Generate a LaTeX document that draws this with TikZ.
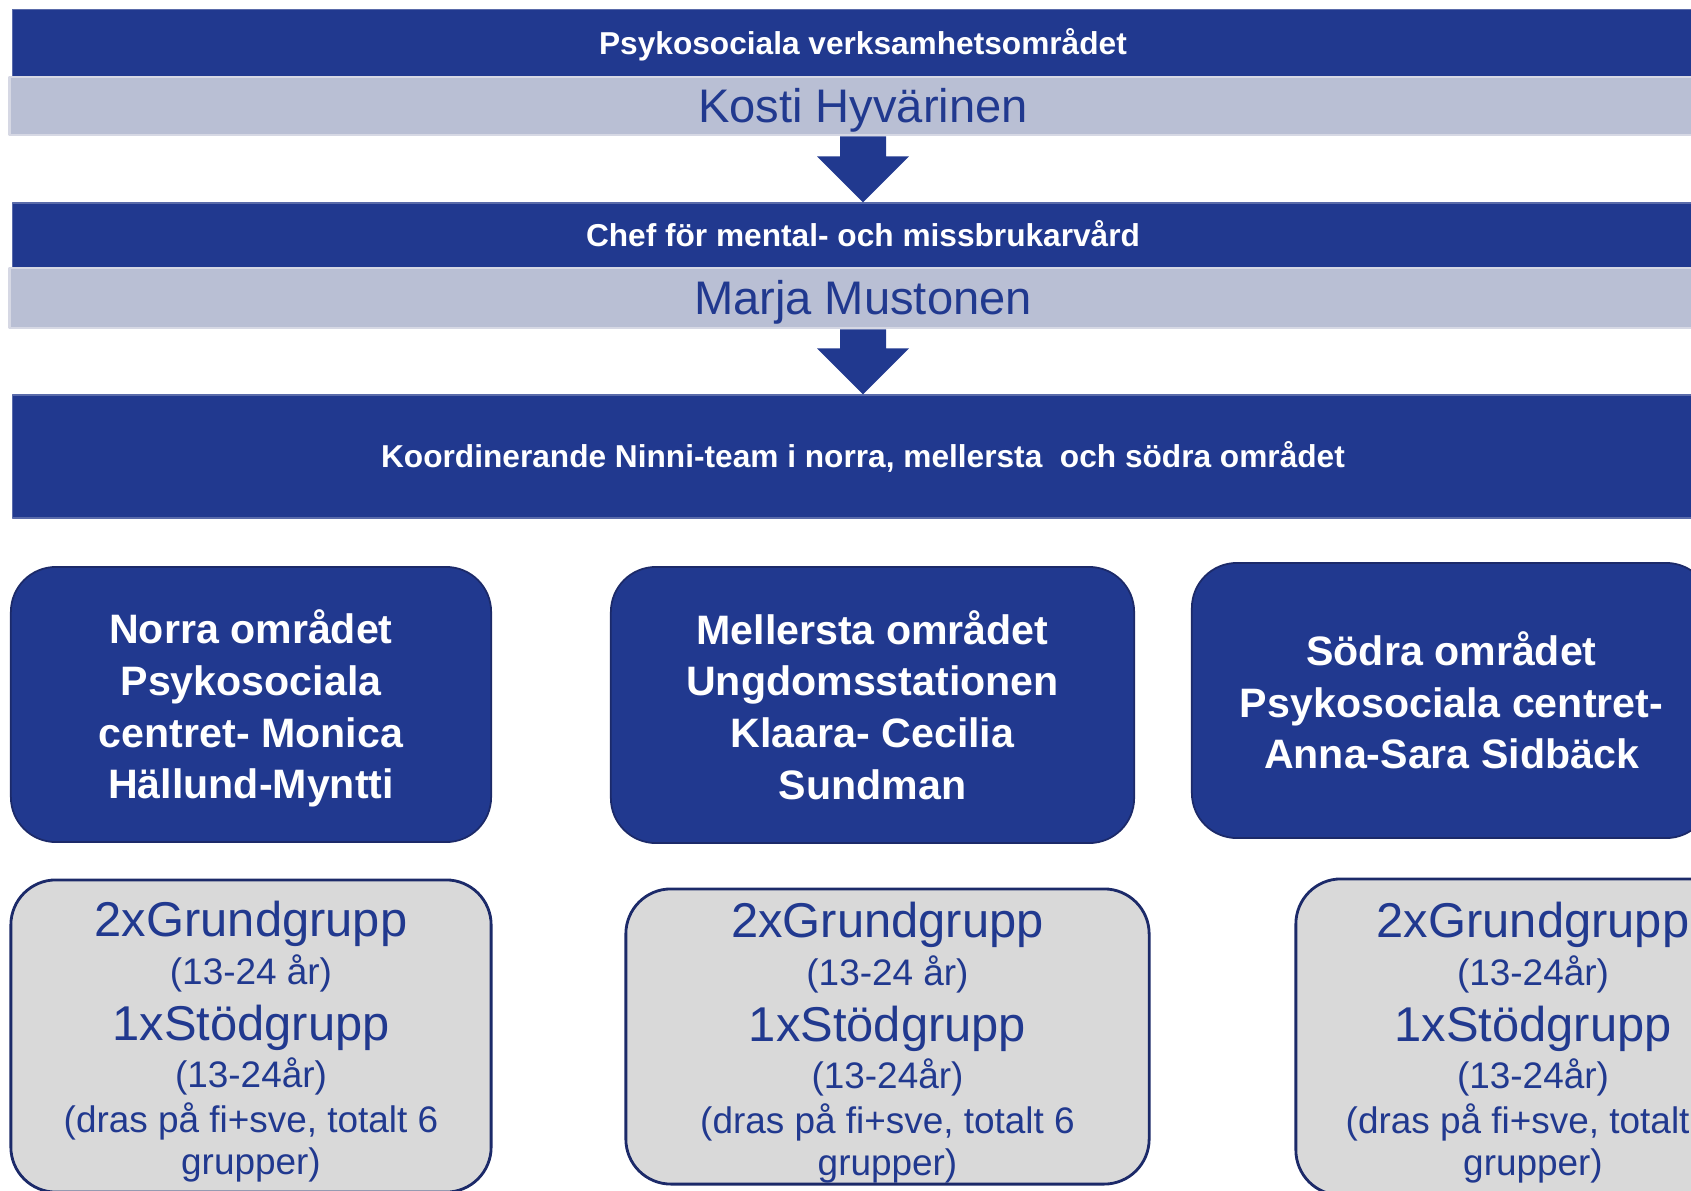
\documentclass[tikz,border=0pt]{standalone}
\usepackage{fontspec}
\setmainfont{Liberation Sans}
\usepackage{tikz}
\usetikzlibrary{calc}
\definecolor{dkblue}{rgb}{0.129,0.224,0.561}
\definecolor{bandedge}{rgb}{0.353,0.42,0.667}
\definecolor{bandgrey}{rgb}{0.725,0.749,0.831}
\definecolor{bandline}{rgb}{0.839,0.847,0.894}
\definecolor{boxgrey}{rgb}{0.851,0.851,0.851}
\definecolor{boxedge}{rgb}{0.11,0.165,0.412}
\setlength{\lineskiplimit}{-20pt}
\newcommand{\grpline}[1]{{\fontsize{13.9}{12}\selectfont #1}}
\begin{document}
\begin{tikzpicture}[line join=round,x=0.01cm,y=-0.01cm,
  darkband/.style={fill=dkblue,draw=bandedge,line width=0.4pt,text=white,inner sep=0pt,
    font=\bfseries\fontsize{9}{11}\selectfont,text height=6.5pt,text depth=0pt},
  greyband/.style={fill=bandgrey,draw=bandline,line width=0.8pt,text=dkblue,inner sep=0pt,
    font=\fontsize{13.4}{16}\selectfont,text height=9.6pt,text depth=0pt},
  areabox/.style={rounded corners=0.45cm,fill=dkblue,draw=boxedge,line width=0.5pt,text=white,
    inner sep=0pt,align=center,font=\bfseries\fontsize{11.7}{14.7}\selectfont},
  groupbox/.style={rounded corners=0.45cm,fill=boxgrey,draw=boxedge,line width=0.8pt,text=dkblue,
    inner sep=0pt,align=center,font=\fontsize{10.5}{12}\selectfont}]
\useasboundingbox (0,0) rectangle (1691,1191);
\clip (0,0) rectangle (1691,1191);
% top of the chart
\node[darkband,minimum width=17cm,minimum height=0.674cm] (psyk) at (863,43) {Psykosociala verksamhetsområdet};
\node[greyband,minimum width=17.06cm,minimum height=0.58cm] (kosti) at (863,106) {Kosti Hyvärinen};
\node[darkband,minimum width=17cm,minimum height=0.65cm] (chef) at (863,235.5) {Chef för mental- och missbrukarvård};
\node[greyband,minimum width=17.06cm,minimum height=0.6cm] (marja) at (863,298) {Marja Mustonen};
\node[darkband,minimum width=17cm,minimum height=1.23cm] (koord) at (863,456.5) {Koordinerande Ninni-team i norra, mellersta\ \ och södra området};
\foreach \from/\to in {kosti/chef,marja/koord}
  \fill[dkblue] ($(\from.south)+(-23,0)$) -- ($(\to.north)+(-23,-46)$) -- ($(\to.north)+(-46,-46)$) -- (\to.north)
    -- ($(\to.north)+(46,-46)$) -- ($(\to.north)+(23,-46)$) -- ($(\from.south)+(23,0)$) -- cycle;
% areas
\node[areabox,minimum width=4.8cm,minimum height=2.75cm] (norra) at (251,704.5) {Norra området\\Psykosociala\\centret- Monica\\\smash{Hällund-Myntti}};
\node[areabox,minimum width=5.23cm,minimum height=2.76cm] (mellersta) at (872.5,705) {Mellersta området\\Ungdomsstationen\\Klaara- Cecilia\\Sundman};
\node[areabox,minimum width=5.19cm,minimum height=2.75cm] (sodra) at (1451.5,700.5) {Södra området\\Psykosociala centret-\\Anna-Sara Sidbäck};
% groups
\node[groupbox,minimum width=4.8cm,minimum height=3.12cm] (norragrp) at (251,1036) {\grpline{\rule{0pt}{13.3pt}2xGrundgrupp}\\[1.7pt] (13-24 år)\\[3.9pt] \grpline{1xStödgrupp}\\[1.4pt] (13-24år)\\[0.8pt] (dras på fi+sve, totalt 6\\[-0.1pt] grupper)};
\node[groupbox,minimum width=5.23cm,minimum height=2.95cm] (mellerstagrp) at (887.5,1036.5) {\grpline{\rule{0pt}{13.3pt}2xGrundgrupp}\\[1.7pt] (13-24 år)\\[3.9pt] \grpline{1xStödgrupp}\\[1.4pt] (13-24år)\\[0.8pt] (dras på fi+sve, totalt 6\\[-0.1pt] grupper)};
\node[groupbox,minimum width=4.74cm,minimum height=3.16cm] (sodragrp) at (1533,1037) {\grpline{\rule{0pt}{13.3pt}2xGrundgrupp}\\[1.7pt] (13-24år)\\[3.9pt] \grpline{1xStödgrupp}\\[1.4pt] (13-24år)\\[0.8pt] (dras på fi+sve, totalt 6\\[-0.1pt] grupper)};
\end{tikzpicture}
\end{document}
